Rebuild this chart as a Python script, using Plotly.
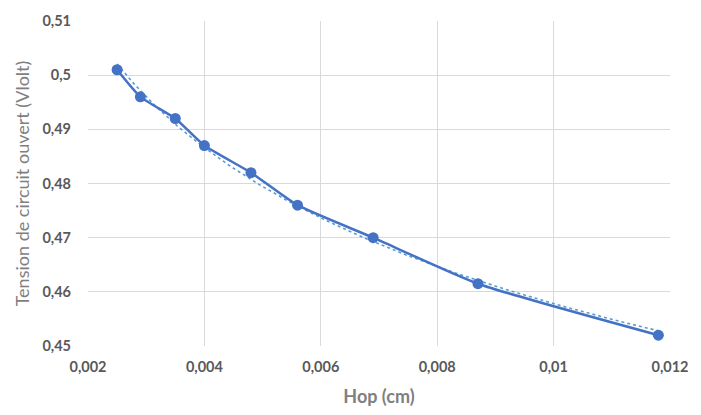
import numpy as np
import plotly.graph_objects as go

# Measured open-circuit voltage versus Hop
hop_cm = [0.0025, 0.0029, 0.0035, 0.0040, 0.0048, 0.0056, 0.0069, 0.0087, 0.0118]
tension_v = [0.501, 0.496, 0.492, 0.487, 0.482, 0.476, 0.470, 0.4615, 0.452]

x_ticks = [0.002, 0.004, 0.006, 0.008, 0.010, 0.012]
x_labels = ["0,002", "0,004", "0,006", "0,008", "0,01", "0,012"]
y_ticks = [0.45, 0.46, 0.47, 0.48, 0.49, 0.50, 0.51]
y_labels = ["0,45", "0,46", "0,47", "0,48", "0,49", "0,5", "0,51"]

# Power-law trend line fitted to the measurements (y = a * x^b)
b, log_a = np.polyfit(np.log(hop_cm), np.log(tension_v), 1)
x_fit = np.linspace(min(hop_cm), max(hop_cm), 200)
y_fit = np.exp(log_a) * x_fit ** b

blue = "#4472C4"
fig = go.Figure()
fig.add_trace(go.Scatter(
    x=x_fit, y=y_fit, mode="lines",
    line=dict(color="#5B9BD5", width=1.6, dash="dot"),
    hoverinfo="skip", showlegend=False,
))
fig.add_trace(go.Scatter(
    x=hop_cm, y=tension_v, mode="lines+markers",
    line=dict(color=blue, width=2.5, shape="spline", smoothing=0.5),
    marker=dict(color=blue, size=11),
    showlegend=False,
))

tick_font = dict(family="Lato, Open Sans, sans-serif", size=14.5, color="#595959", weight="bold")
title_font = dict(family="Lato, Open Sans, sans-serif", size=18, color="#7f7f7f")

fig.update_layout(
    width=701, height=415,
    margin=dict(l=88, r=19, t=16, b=68),
    paper_bgcolor="white", plot_bgcolor="white",
    xaxis=dict(
        range=[0.002, 0.012], tickvals=x_ticks, ticktext=x_labels,
        showgrid=True, gridcolor="#d9d9d9", gridwidth=1,
        zeroline=False, showline=False, ticks="",
        tickfont=tick_font, ticklabelstandoff=10,
        title=dict(text="<b>Hop (cm)</b>", font=title_font, standoff=16),
    ),
    yaxis=dict(
        range=[0.45, 0.51], tickvals=y_ticks, ticktext=y_labels,
        showgrid=True, gridcolor="#d9d9d9", gridwidth=1,
        zeroline=False, showline=False, ticks="",
        tickfont=tick_font, ticklabelstandoff=16,
        title=dict(text="Tension de circuit ouvert (Vlolt)", font=title_font, standoff=8),
    ),
)

fig.write_html("out.html")
